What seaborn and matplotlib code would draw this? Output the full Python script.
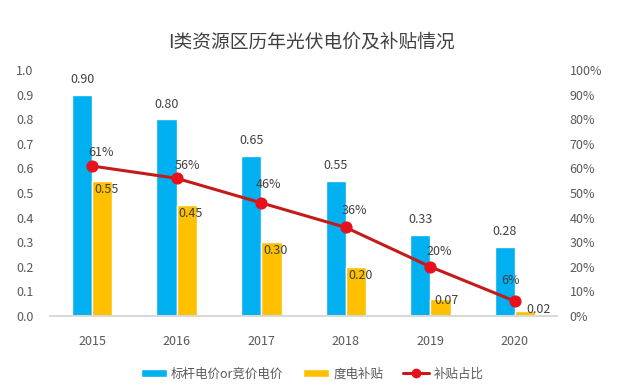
import matplotlib
matplotlib.use('Agg')
import matplotlib.pyplot as plt
import seaborn as sns
import pandas as pd
from matplotlib.ticker import FuncFormatter, MultipleLocator
from matplotlib.patches import Patch
from matplotlib.lines import Line2D

# data
years = ['2015', '2016', '2017', '2018', '2019', '2020']
benchmark_price = [0.90, 0.80, 0.65, 0.55, 0.33, 0.28]   # 标杆电价or竞价电价
subsidy = [0.55, 0.45, 0.30, 0.20, 0.07, 0.02]           # 度电补贴
subsidy_share = [61, 56, 46, 36, 20, 6]                  # 补贴占比 (%)
series_names = ['标杆电价or竞价电价', '度电补贴', '补贴占比']

sns.set_theme(style='white')
plt.rcParams['font.family'] = ['Noto Sans CJK SC', 'DejaVu Sans']

blue = '#00B0F0'
yellow = '#FFC000'
red_line = '#C41A1A'
red_dot = '#E8101A'
txt = '#595959'

df = pd.DataFrame({
    'year': years * 2,
    'value': benchmark_price + subsidy,
    'series': [series_names[0]] * 6 + [series_names[1]] * 6,
})

fig = plt.figure(figsize=(6.24, 3.92), dpi=100)
ax = fig.add_axes([0.080, 0.194, 0.813, 0.627])

sns.barplot(data=df, x='year', y='value', hue='series', saturation=1,
            palette=[blue, yellow], width=0.48, gap=0, ax=ax, legend=False)

ax2 = ax.twinx()
sns.lineplot(x=list(range(6)), y=subsidy_share, ax=ax2, color=red_line,
             linewidth=2.2, marker='o', markersize=8, markerfacecolor=red_dot,
             markeredgecolor=red_dot, legend=False)

ax.set_xlim(-0.5, 5.5)
ax.set_ylim(0, 1.0)
ax2.set_ylim(0, 100)
ax.yaxis.set_major_locator(MultipleLocator(0.1))
ax.yaxis.set_major_formatter(FuncFormatter(lambda v, p: f'{v:.1f}'))
ax2.yaxis.set_major_locator(MultipleLocator(10))
ax2.yaxis.set_major_formatter(FuncFormatter(lambda v, p: f'{v:.0f}%'))

for a in (ax, ax2):
    for s in ['top', 'left', 'right']:
        a.spines[s].set_visible(False)
    a.spines['bottom'].set_color('#D9D9D9')
    a.set_xlabel('')
    a.set_ylabel('')
    a.grid(False)

ax.tick_params(axis='y', length=0, pad=12, labelsize=9, labelcolor=txt)
ax2.tick_params(axis='y', length=0, pad=9, labelsize=9, labelcolor=txt)
ax.tick_params(axis='x', length=0, pad=14, labelsize=9, labelcolor=txt)

# bar labels
for i, v in enumerate(benchmark_price):
    ax.annotate(f'{v:.2f}', (i - 0.12, v), xytext=(0, 11), textcoords='offset points',
                ha='center', va='center', fontsize=9, color='#404040')
sub_off = [(3, -6), (3, -6), (3, -6), (3, -6), (4, -1), (10, 1)]
for i, v in enumerate(subsidy):
    dx, dy = sub_off[i]
    ax.annotate(f'{v:.2f}', (i + 0.12, v), xytext=(dx, dy), textcoords='offset points',
                ha='center', va='center', fontsize=9, color='#404040')
pct_off = [(6, 10), (8, 9), (5, 13), (6, 12), (6, 11), (-3, 15)]
for i, v in enumerate(subsidy_share):
    dx, dy = pct_off[i]
    ax2.annotate(f'{v}%', (i, v), xytext=(dx, dy), textcoords='offset points',
                 ha='center', va='center', fontsize=9, color='#404040')

fig.text(0.50, 0.893, 'I类资源区历年光伏电价及补贴情况', ha='center', va='center',
         fontsize=13.5, color='#404040')

handles = [Patch(facecolor=blue), Patch(facecolor=yellow),
           Line2D([0], [0], color=red_line, lw=2.2, marker='o', markersize=6,
                  markerfacecolor=red_dot, markeredgecolor=red_dot)]
fig.legend(handles, series_names, loc='center', bbox_to_anchor=(0.50, 0.046),
           ncol=3, frameon=False, fontsize=9, labelcolor=txt,
           handlelength=2.1, handleheight=0.7, handletextpad=0.3, columnspacing=1.6)

fig.savefig('out.png', dpi=100)
